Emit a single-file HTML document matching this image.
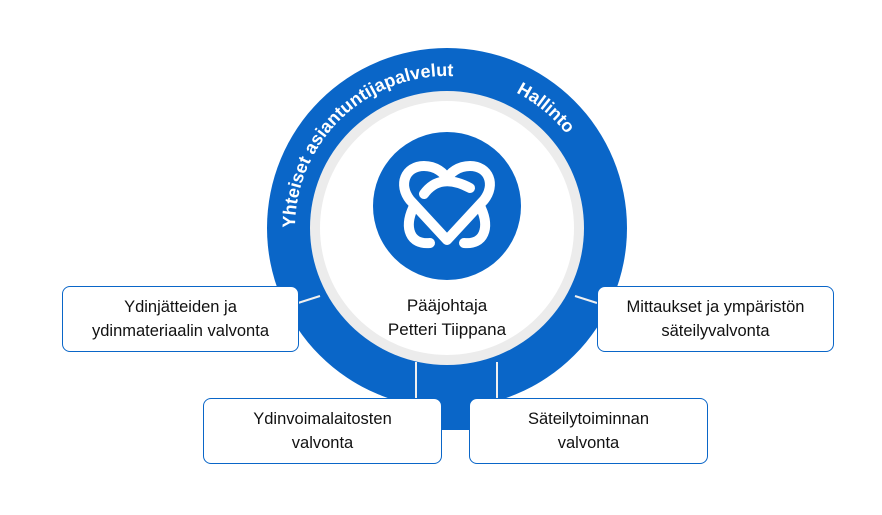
<!DOCTYPE html>
<html><head><meta charset="utf-8"><style>
body{margin:0;background:#fff;width:882px;height:515px;overflow:hidden;font-family:"Liberation Sans",sans-serif}
.box{position:absolute;background:#fff;border:1.5px solid #0a66c8;border-radius:8px;box-sizing:border-box;display:flex;align-items:center;justify-content:center;text-align:center;font-size:16.5px;line-height:24px;color:#111}
</style></head><body>
<svg width="882" height="515" style="position:absolute;left:0;top:0">
<rect x="441" y="380" width="28" height="50" fill="#0a66c8"/>
<circle cx="447" cy="228" r="180" fill="#0a66c8"/>
<circle cx="447" cy="228" r="137" fill="#ececec"/>
<circle cx="447" cy="228" r="127" fill="#fff"/>
<line x1="416" y1="362" x2="416" y2="400" stroke="#f0f0f0" stroke-width="2"/>
<line x1="497" y1="362" x2="497" y2="400" stroke="#f0f0f0" stroke-width="2"/>
<line x1="298" y1="303" x2="320" y2="296" stroke="#f0f0f0" stroke-width="2"/>
<line x1="597" y1="303" x2="575" y2="296" stroke="#f0f0f0" stroke-width="2"/>
<circle cx="447" cy="206" r="74" fill="#0a66c8"/>
<g fill="none" stroke="#fff" stroke-width="10" stroke-linecap="round" stroke-linejoin="round">
<path d="M447 240 L410 200 C398 185 405 166 424 166 C436 166 444 173 447 179 C450 173 458 166 470 166 C489 166 496 185 484 200 Z"/>
<path d="M424 194 Q440 172 470 188"/>
<path d="M413 208 C404 228 410 245 430 243"/>
<path d="M481 208 C490 228 484 245 464 243"/>
</g>
<defs><path id="arc" d="M 295,228 A 152 152 0 1 1 599,228"/></defs>
<text font-family="Liberation Sans" font-weight="bold" font-size="18" fill="#fff"><textPath href="#arc" startOffset="0%" textLength="245">Yhteiset asiantuntijapalvelut</textPath></text>
<text font-family="Liberation Sans" font-weight="bold" font-size="18" fill="#fff"><textPath href="#arc" startOffset="65%">Hallinto</textPath></text>
<text x="447" y="311" text-anchor="middle" font-family="Liberation Sans" font-size="17" fill="#111">Pääjohtaja</text>
<text x="447" y="335" text-anchor="middle" font-family="Liberation Sans" font-size="17" fill="#111">Petteri Tiippana</text>
</svg>
<div class="box" style="left:62px;top:286px;width:237px;height:66px">Ydinjätteiden ja<br>ydinmateriaalin valvonta</div>
<div class="box" style="left:597px;top:286px;width:237px;height:66px">Mittaukset ja ympäristön<br>säteilyvalvonta</div>
<div class="box" style="left:203px;top:398px;width:239px;height:66px">Ydinvoimalaitosten<br>valvonta</div>
<div class="box" style="left:469px;top:398px;width:239px;height:66px">Säteilytoiminnan<br>valvonta</div>
</body></html>
